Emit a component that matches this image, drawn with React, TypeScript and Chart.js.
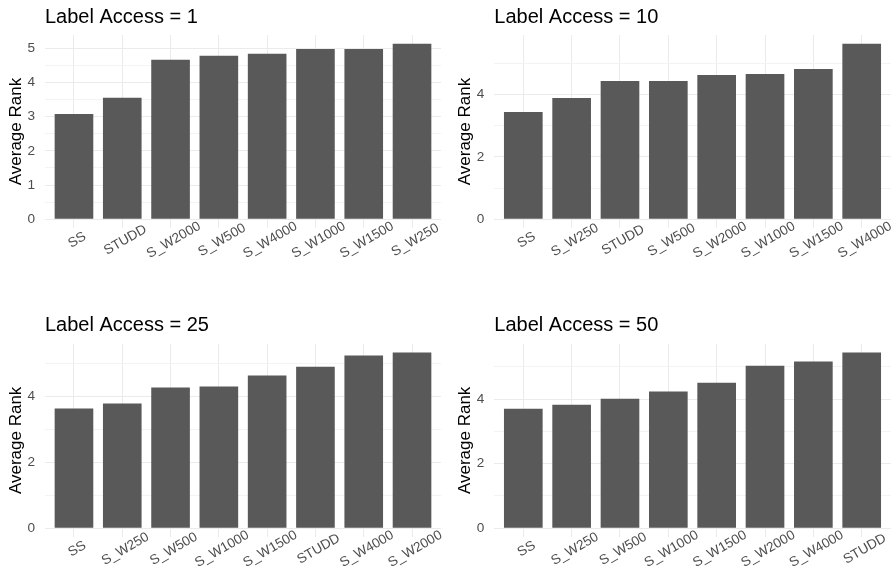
import React, { useEffect, useRef } from 'react';
import { Chart, registerables } from 'chart.js';

Chart.register(...registerables);

const FONT = '"Liberation Sans", Arial, Helvetica, sans-serif';

// ---- data ----
const panel1Title = 'Label Access = 1';
const panel1Labels = ['SS', 'STUDD', 'S_W2000', 'S_W500', 'S_W4000', 'S_W1000', 'S_W1500', 'S_W250'];
const panel1Values = [3.08, 3.55, 4.66, 4.78, 4.84, 4.98, 4.98, 5.13];

const panel2Title = 'Label Access = 10';
const panel2Labels = ['SS', 'S_W250', 'STUDD', 'S_W500', 'S_W2000', 'S_W1000', 'S_W1500', 'S_W4000'];
const panel2Values = [3.44, 3.89, 4.44, 4.44, 4.63, 4.66, 4.82, 5.63];

const panel3Title = 'Label Access = 25';
const panel3Labels = ['SS', 'S_W250', 'S_W500', 'S_W1000', 'S_W1500', 'STUDD', 'S_W4000', 'S_W2000'];
const panel3Values = [3.63, 3.78, 4.27, 4.30, 4.63, 4.90, 5.24, 5.33];

const panel4Title = 'Label Access = 50';
const panel4Labels = ['SS', 'S_W250', 'S_W500', 'S_W1000', 'S_W1500', 'S_W2000', 'S_W4000', 'STUDD'];
const panel4Values = [3.70, 3.82, 4.01, 4.23, 4.50, 5.03, 5.16, 5.44];

const yAxisTitle = 'Average Rank';
const majorSteps = [1, 2, 2, 2];

// ---- layout ----
type Area = { left: number; right: number; top: number; bottom: number };
type Spec = {
  title: string;
  labels: string[];
  values: number[];
  majorStep: number;
  left: number;
  top: number;
  width: number;
  height: number;
  area: Area;
};

const specs: Spec[] = [
  { title: panel1Title, labels: panel1Labels, values: panel1Values, majorStep: majorSteps[0],
    left: 0, top: 0, width: 446, height: 287, area: { left: 45, right: 441, top: 35, bottom: 228.1 } },
  { title: panel2Title, labels: panel2Labels, values: panel2Values, majorStep: majorSteps[1],
    left: 446, top: 0, width: 447, height: 287, area: { left: 48.3, right: 444.7, top: 35, bottom: 228.1 } },
  { title: panel3Title, labels: panel3Labels, values: panel3Values, majorStep: majorSteps[2],
    left: 0, top: 287, width: 446, height: 287, area: { left: 45, right: 441, top: 56.7, bottom: 250 } },
  { title: panel4Title, labels: panel4Labels, values: panel4Values, majorStep: majorSteps[3],
    left: 446, top: 287, width: 447, height: 287, area: { left: 48.3, right: 444.7, top: 56.7, bottom: 250 } },
];

function makeTextPlugin(spec: Spec) {
  return {
    id: 'panelText',
    afterDraw(chart: any) {
      const { ctx, chartArea } = chart;
      const xs = chart.scales.x;
      ctx.save();
      // title
      ctx.fillStyle = '#000000';
      ctx.font = `20px ${FONT}`;
      ctx.textAlign = 'left';
      ctx.textBaseline = 'alphabetic';
      ctx.fillText(spec.title, chartArea.left, chartArea.top - 12.3);
      // y axis title
      ctx.save();
      ctx.translate(chartArea.left - 24, (chartArea.top + chartArea.bottom) / 2);
      ctx.rotate(-Math.PI / 2);
      ctx.font = `17px ${FONT}`;
      ctx.textAlign = 'center';
      ctx.fillText(yAxisTitle, 0, 0);
      ctx.restore();
      // x tick labels, rotated 30 degrees
      ctx.font = `13.6px ${FONT}`;
      ctx.fillStyle = '#4D4D4D';
      spec.labels.forEach((lab, i) => {
        const px = xs.getPixelForValue(i + 1);
        ctx.save();
        ctx.translate(px + 3.2, chartArea.bottom + 12);
        ctx.rotate(-Math.PI / 6);
        ctx.textAlign = 'center';
        ctx.textBaseline = 'middle';
        ctx.fillText(lab, 0, 0);
        ctx.restore();
      });
      ctx.restore();
    },
  };
}

function Panel({ spec }: { spec: Spec }) {
  const ref = useRef<HTMLCanvasElement>(null);
  useEffect(() => {
    const canvas = ref.current;
    if (!canvas) return;
    const n = spec.labels.length;
    const maxV = Math.max(...spec.values);
    const yMax = maxV * 1.05;
    const yMin = -maxV * 0.05;
    const half = spec.majorStep / 2;
    const yTicks: number[] = [];
    for (let k = 0; k * half <= yMax + 1e-9; k++) yTicks.push(+(k * half).toFixed(4));
    const isMajor = (v: number) => Math.abs(v / spec.majorStep - Math.round(v / spec.majorStep)) < 1e-6;
    const a = spec.area;

    const chart = new Chart(canvas, {
      type: 'bar',
      data: {
        datasets: [
          {
            data: spec.values.map((v, i) => ({ x: i + 1, y: v })),
            backgroundColor: '#595959',
            borderWidth: 0,
            barPercentage: 0.8,
            categoryPercentage: 1,
          } as any,
        ],
      },
      options: {
        animation: false,
        responsive: false,
        devicePixelRatio: 1,
        layout: {
          padding: { left: 0, top: a.top, right: spec.width - a.right, bottom: spec.height - a.bottom },
        },
        plugins: {
          legend: { display: false },
          tooltip: { enabled: false },
          title: { display: false },
        },
        scales: {
          x: {
            type: 'linear',
            min: 0.4,
            max: n + 0.6,
            offset: false,
            afterBuildTicks: (s: any) => {
              s.ticks = spec.labels.map((_, i) => ({ value: i + 1 }));
            },
            afterFit: (s: any) => {
              s.height = 0;
            },
            ticks: { display: false },
            grid: { color: '#EBEBEB', lineWidth: 1, drawTicks: false, offset: false },
            border: { display: false },
          },
          y: {
            type: 'linear',
            min: yMin,
            max: yMax,
            afterBuildTicks: (s: any) => {
              s.ticks = yTicks.map((v) => ({ value: v }));
            },
            afterFit: (s: any) => {
              s.width = a.left;
            },
            ticks: {
              autoSkip: false,
              padding: 10,
              color: '#4D4D4D',
              font: { family: FONT, size: 13.6 },
              callback: (v: any) => (isMajor(Number(v)) ? String(Number(v)) : ''),
            },
            grid: {
              drawTicks: false,
              color: (c: any) => (isMajor(c.tick.value) ? '#EBEBEB' : '#F3F3F3'),
              lineWidth: 1,
            },
            border: { display: false },
          },
        },
      } as any,
      plugins: [makeTextPlugin(spec)],
    });
    return () => chart.destroy();
  }, [spec]);

  return (
    <canvas
      ref={ref}
      width={spec.width}
      height={spec.height}
      style={{ position: 'absolute', left: spec.left, top: spec.top, width: spec.width, height: spec.height }}
    />
  );
}

export default function App() {
  return (
    <div
      style={{
        position: 'fixed',
        left: 0,
        top: 0,
        width: 893,
        height: 574,
        background: '#ffffff',
        overflow: 'hidden',
      }}
    >
      {specs.map((s, i) => (
        <Panel key={i} spec={s} />
      ))}
    </div>
  );
}
